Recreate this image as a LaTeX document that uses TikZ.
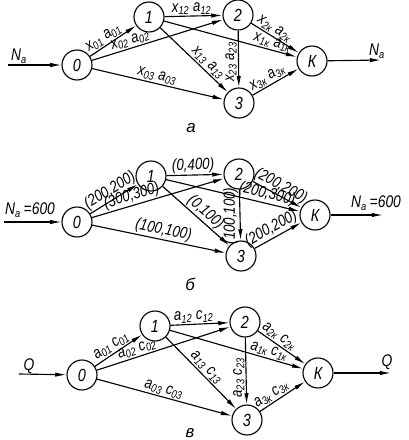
\documentclass[tikz,border=0pt]{standalone}
\usepackage{fontspec}
\setmainfont{Liberation Sans}
\newfontfamily\narrowsf[FakeStretch=0.82]{Liberation Sans}
\usepackage{tikz}
\usetikzlibrary{arrows.meta}

% edge label: two letters with the same index
\newcommand{\pairlbl}[3]{#1\textsubscript{#3}\hspace{0.22em}#2\textsubscript{#3}}

\begin{document}
\begin{tikzpicture}[x=0.025cm, y=-0.025cm,
  vertex/.style={draw, circle, line width=0.8pt, minimum size=0.75cm, inner sep=0pt, font=\narrowsf\itshape\fontsize{12.5}{14}\selectfont},
  arc/.style={line width=0.8pt, -{Latex[length=2.8mm, width=1.1mm]}},
  lbl/.style={font=\narrowsf\itshape\fontsize{11.5}{12}\selectfont, inner sep=0.8pt, sloped, above},
  vlbl/.style={lbl, sloped=false, rotate=90},
  iolbl/.style={font=\narrowsf\itshape\fontsize{12}{13}\selectfont, inner sep=0pt},
  figlbl/.style={font=\itshape\fontsize{12}{14}\selectfont, inner sep=0pt}]
\useasboundingbox (0,0) rectangle (408,440);

% graph a
\node[vertex] (a0) at (77,65) {0};
\node[vertex] (a1) at (149,17) {1};
\node[vertex] (a2) at (238,15) {2};
\node[vertex] (a3) at (239,103) {3};
\node[vertex] (aK) at (312,61) {К};
\coordinate (ain) at (8,65);
\coordinate (aout) at (381,60);
\node[iolbl] (aNin) at (19,56) {N\textsubscript{a}};
\node[iolbl] (aNout) at (377,51) {N\textsubscript{a}};
\draw[arc] (ain) -- (a0);
\draw[arc] (aK) -- (aout);
\draw[arc] (a0) -- node[lbl, pos=0.39] {\pairlbl{x}{a}{01}} (a1);
\draw[arc] (a0) -- node[lbl, pos=0.31] {\pairlbl{x}{a}{02}} (a2);
\draw[arc] (a0) -- node[lbl, pos=0.48] {\pairlbl{x}{a}{03}} (a3);
\draw[arc] (a1) -- node[lbl, pos=0.47] {\pairlbl{x}{a}{12}} (a2);
\draw[arc] (a1) -- node[lbl, pos=0.63] {\pairlbl{x}{a}{13}} (a3);
\draw[arc] (a1) -- node[lbl, pos=0.8] {\pairlbl{x}{a}{1к}} (aK);
\draw[arc] (a2) -- node[lbl, pos=0.41] {\pairlbl{x}{a}{2к}} (aK);
\draw[arc] (a2) -- node[vlbl, pos=0.55] {\pairlbl{x}{a}{23}} (a3);
\draw[arc] (a3) -- node[lbl, pos=0.41] {\pairlbl{x}{a}{3к}} (aK);
\node[figlbl] (acap) at (191,128) {а};

% graph b
\node[vertex] (b0) at (77,222) {0};
\node[vertex] (b1) at (151,176) {1};
\node[vertex] (b2) at (239,174) {2};
\node[vertex] (b3) at (241,256) {3};
\node[vertex] (bK) at (315,215) {К};
\coordinate (bin) at (4,222);
\coordinate (bout) at (383,215);
\node[iolbl] (bNin) at (30,210) {N\textsubscript{a}\,=600};
\node[iolbl] (bNout) at (376,203) {N\textsubscript{a}\,=600};
\draw[arc] (bin) -- (b0);
\draw[arc] (bK) -- (bout);
\draw[arc] (b0) -- node[lbl, pos=0.52] {(200,200)} (b1);
\draw[arc] (b0) -- node[lbl, pos=0.32] {(300,300)} (b2);
\draw[arc] (b0) -- node[lbl, pos=0.52] {(100,100)} (b3);
\draw[arc] (b1) -- node[lbl, pos=0.47] {(0,400)} (b2);
\draw[arc] (b1) -- node[lbl, pos=0.55] {(0,100)} (b3);
\draw[arc] (b1) -- node[lbl, pos=0.74] {(200,300)} (bK);
\draw[arc] (b2) -- node[lbl, pos=0.49] {(200,200)} (bK);
\draw[arc] (b2) -- node[vlbl, pos=0.52] {(100,100)} (b3);
\draw[arc] (b3) -- node[lbl, pos=0.45] {(200,200)} (bK);
\node[figlbl] (bcap) at (190,284) {б};

% graph c
\node[vertex] (c0) at (82,375) {0};
\node[vertex] (c1) at (155,326) {1};
\node[vertex] (c2) at (245,322) {2};
\node[vertex] (c3) at (247,420) {3};
\node[vertex] (cK) at (318,373) {К};
\coordinate (cin) at (19,374);
\coordinate (cout) at (391,373);
\node[iolbl] (cQin) at (29,366) {Q};
\node[iolbl] (cQout) at (387,362) {Q};
\draw[arc] (cin) -- (c0);
\draw[arc] (cK) -- (cout);
\draw[arc] (c0) -- node[lbl, pos=0.44] {\pairlbl{a}{c}{01}} (c1);
\draw[arc] (c0) -- node[lbl, pos=0.32] {\pairlbl{a}{c}{02}} (c2);
\draw[arc] (c0) -- node[lbl, pos=0.48] {\pairlbl{a}{c}{03}} (c3);
\draw[arc] (c1) -- node[lbl, pos=0.4] {\pairlbl{a}{c}{12}} (c2);
\draw[arc] (c1) -- node[lbl, pos=0.5] {\pairlbl{a}{c}{13}} (c3);
\draw[arc] (c1) -- node[lbl, pos=0.73] {\pairlbl{a}{c}{1к}} (cK);
\draw[arc] (c2) -- node[lbl, pos=0.36] {\pairlbl{a}{c}{2к}} (cK);
\draw[arc] (c2) -- node[vlbl, pos=0.6] {\pairlbl{a}{c}{23}} (c3);
\draw[arc] (c3) -- node[lbl, pos=0.35] {\pairlbl{a}{c}{3к}} (cK);
\node[figlbl] (ccap) at (190,433) {в};
\end{tikzpicture}
\end{document}
